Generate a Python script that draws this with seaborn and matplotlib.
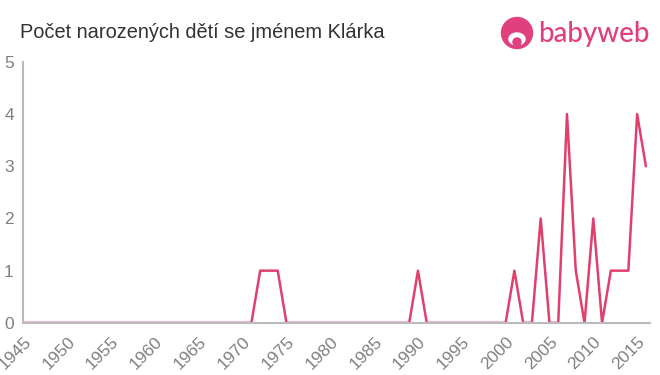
import matplotlib
matplotlib.use("Agg")
import matplotlib.pyplot as plt
from matplotlib.patches import Ellipse
import seaborn as sns
import pandas as pd

years = list(range(1945, 2017))
counts = [0] * 27 + [1, 1, 1] + [0] * 15 + [1] + [0] * 10 + \
         [1, 0, 0, 2, 0, 0, 4, 1, 0, 2, 0, 1, 1, 1, 4, 3]
x_ticks = list(range(1945, 2016, 5))
y_ticks = [0, 1, 2, 3, 4, 5]

title = "Počet narozených dětí se jménem Klárka"
line_color = "#e0406e"
logo_color = "#e0407e"
W, H = 660, 375


def main():
    sns.set_style("white")
    plt.rcParams["font.family"] = ["Liberation Sans", "DejaVu Sans"]
    df = pd.DataFrame({"year": years, "count": counts})

    fig = plt.figure(figsize=(6.6, 3.75), dpi=100)
    ax = fig.add_axes([0.0356, 0.139, 0.949, 0.696])
    sns.lineplot(data=df, x="year", y="count", ax=ax, color=line_color, linewidth=1.8)

    ax.set_xlim(1945, 2016.45)
    ax.set_ylim(0, 5)
    ax.set_xticks(x_ticks)
    ax.set_xticklabels([str(t) for t in x_ticks], rotation=45, ha="right",
                       rotation_mode="anchor", color="#808080", fontsize=12.5)
    ax.set_yticks(y_ticks)
    ax.set_yticklabels([str(t) for t in y_ticks], color="#808080", fontsize=12.5)
    ax.tick_params(axis="x", length=5, color="#bbbbbb", pad=3)
    ax.tick_params(axis="y", length=4, color="#bbbbbb", pad=3)
    ax.set_xlabel("")
    ax.set_ylabel("")
    for side in ["top", "right"]:
        ax.spines[side].set_visible(False)
    for side in ["left", "bottom"]:
        ax.spines[side].set_color("#bbbbbb")
        ax.spines[side].set_linewidth(1.5)

    fig.text(20 / W, 1 - 32 / H, title, fontsize=14.4, color="#333333", va="center")

    # babyweb logo
    fig.text(538 / W, 1 - 34 / H, "babyweb", fontsize=20, color=logo_color,
             va="center", family=["Lato", "DejaVu Sans"], fontweight="medium")
    cx, cy, r = 517, 33, 15.5
    fig.patches.append(Ellipse((cx / W, 1 - cy / H), 2 * r / W, 2 * r / H,
                               transform=fig.transFigure, color=logo_color, figure=fig))
    fig.patches.append(Ellipse((cx / W, 1 - (cy + 6) / H), 16 / W, 12 / H,
                               transform=fig.transFigure, color="white", figure=fig))
    fig.patches.append(Ellipse((cx / W, 1 - (cy + 9) / H), 8 / W, 8 / H,
                               transform=fig.transFigure, color=logo_color, figure=fig))

    fig.savefig("out.png", dpi=100)


if __name__ == "__main__":
    main()
